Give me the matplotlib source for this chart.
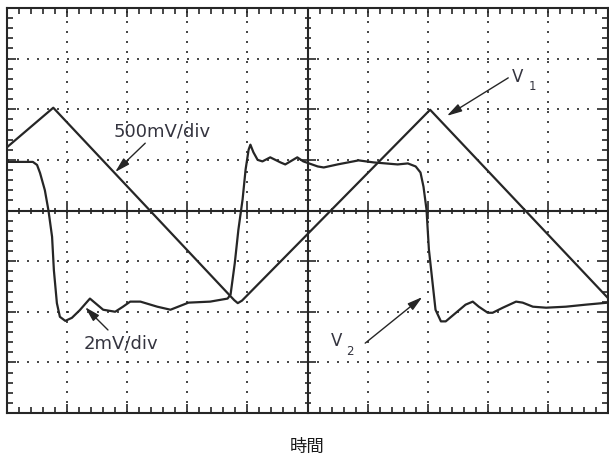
import numpy as np
import matplotlib
matplotlib.use("Agg")
import matplotlib.pyplot as plt

plt.rcParams['font.family'] = ['DejaVu Sans', 'Noto Sans CJK JP']

# time axis in divisions (10 across), amplitude in divisions (8 high, 0 = centre)
t_v1 = [0.0, 0.77, 3.78, 3.84, 3.91, 7.04, 10.0]
v1 = [1.25, 2.03, -1.77, -1.83, -1.78, 1.99, -1.73]

t_v2 = [0.0, 0.43, 0.50, 0.55, 0.63, 0.69, 0.75, 0.78, 0.83, 0.88, 0.97, 1.08,
        1.21, 1.35, 1.38, 1.60, 1.80, 1.93, 2.05, 2.22, 2.50, 2.72, 3.02, 3.38,
        3.67, 3.72, 3.79, 3.85, 3.92, 3.97, 4.02, 4.05, 4.10, 4.17, 4.25, 4.38,
        4.55, 4.63, 4.83, 4.93, 5.17, 5.27, 5.50, 5.85, 6.10, 6.50, 6.67, 6.80,
        6.88, 6.93, 6.98, 7.02, 7.08, 7.13, 7.22, 7.30, 7.47, 7.63, 7.75, 7.85,
        8.00, 8.08, 8.25, 8.47, 8.58, 8.75, 8.97, 9.30, 9.63, 10.0]
v2 = [0.96, 0.96, 0.90, 0.74, 0.40, 0.00, -0.52, -1.18, -1.83, -2.10, -2.18, -2.12,
      -1.97, -1.78, -1.74, -1.96, -2.00, -1.90, -1.80, -1.80, -1.90, -1.96, -1.82, -1.80,
      -1.74, -1.66, -1.04, -0.38, 0.22, 0.81, 1.20, 1.30, 1.15, 1.00, 0.97, 1.05,
      0.95, 0.91, 1.05, 0.97, 0.87, 0.85, 0.91, 0.99, 0.95, 0.91, 0.93, 0.87,
      0.75, 0.47, 0.02, -0.77, -1.42, -1.96, -2.19, -2.19, -2.02, -1.86, -1.80, -1.90,
      -2.02, -2.02, -1.92, -1.80, -1.82, -1.90, -1.92, -1.90, -1.86, -1.82]

xlabel = '時間'
scale_v1 = '500mV/div'
scale_v2 = '2mV/div'

ink = '#262626'
txt_col = '#34343f'

fig = plt.figure(figsize=(6.09, 4.59), dpi=100)
rect = [7 / 609, 46 / 459, 601 / 609, 405 / 459]
ax = fig.add_axes(rect)
ax.set_xlim(0, 10)
ax.set_ylim(-4, 4)

# graticule: dotted grid + inward ticks on the frame
ax.set_xticks(np.arange(0, 11, 1))
ax.set_yticks(np.arange(-4, 5, 1))
ax.set_xticks(np.arange(0, 10.01, 0.2), minor=True)
ax.set_yticks(np.arange(-4, 4.01, 0.2), minor=True)
ax.tick_params(which='both', direction='in', top=True, right=True,
               labelbottom=False, labelleft=False, color=ink, width=1.2)
ax.tick_params(which='major', length=6.5)
ax.tick_params(which='minor', length=4.5)
ax.grid(True, which='major', color=ink, lw=1.2, linestyle=(0, (1.2, 4.8)))
for s in ax.spines.values():
    s.set_linewidth(1.5)
    s.set_color(ink)

# centre cross axes with in/out ticks
ax2 = fig.add_axes(rect)
ax2.set_xlim(0, 10)
ax2.set_ylim(-4, 4)
ax2.patch.set_visible(False)
ax2.spines['left'].set_position(('data', 5))
ax2.spines['bottom'].set_position(('data', 0))
ax2.spines['top'].set_visible(False)
ax2.spines['right'].set_visible(False)
for k in ['left', 'bottom']:
    ax2.spines[k].set_linewidth(1.5)
    ax2.spines[k].set_color(ink)
ax2.set_xticks(np.arange(1, 10, 1))
ax2.set_yticks(np.arange(-3, 4, 1))
ax2.set_xticks(np.arange(0.2, 9.9, 0.2), minor=True)
ax2.set_yticks(np.arange(-3.8, 3.9, 0.2), minor=True)
ax2.tick_params(which='both', direction='inout', labelbottom=False, labelleft=False,
                color=ink, width=1.2)
ax2.tick_params(which='major', length=11)
ax2.tick_params(which='minor', length=5)

# traces
ax.plot(t_v1, v1, color=ink, lw=1.6, solid_joinstyle='round', zorder=5)
ax.plot(t_v2, v2, color=ink, lw=1.6, solid_joinstyle='round', zorder=5)

# annotations
arr = dict(arrowstyle='-|>,head_length=0.9,head_width=0.25', color=ink, lw=1.0,
           shrinkA=0, shrinkB=0)
ax.annotate('', xy=(1.80, 0.76), xytext=(2.30, 1.33), arrowprops=arr, zorder=6)
ax.text(2.58, 1.57, scale_v1, ha='center', va='center', fontsize=13, color=txt_col)

ax.annotate('', xy=(1.30, -1.91), xytext=(1.68, -2.36), arrowprops=arr, zorder=6)
ax.text(1.90, -2.62, scale_v2, ha='center', va='center', fontsize=13, color=txt_col)

ax.annotate('', xy=(7.32, 1.87), xytext=(8.34, 2.62), arrowprops=arr, zorder=6)
ax.text(8.50, 2.64, 'V', ha='center', va='center', fontsize=12, color=txt_col)
ax.text(8.74, 2.44, '1', ha='center', va='center', fontsize=8.5, color=txt_col)

ax.annotate('', xy=(6.91, -1.71), xytext=(5.96, -2.62), arrowprops=arr, zorder=6)
ax.text(5.49, -2.58, 'V', ha='center', va='center', fontsize=12, color=txt_col)
ax.text(5.71, -2.78, '2', ha='center', va='center', fontsize=8.5, color=txt_col)

fig.text(307 / 609, 1 - 447 / 459, xlabel, ha='center', va='center', fontsize=12.5,
         color='#1a1a1a', family=['Noto Sans CJK JP', 'DejaVu Sans'])

fig.savefig('out.png', dpi=100)
